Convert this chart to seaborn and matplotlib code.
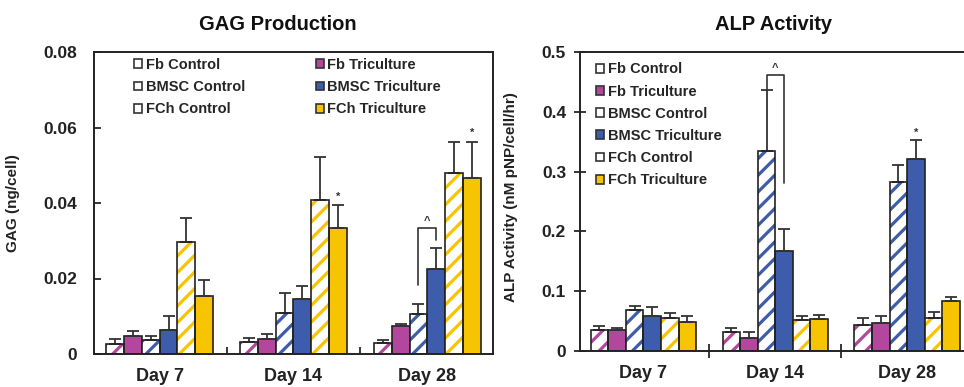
import numpy as np
import pandas as pd
import matplotlib
matplotlib.use("Agg")
import matplotlib.pyplot as plt
import seaborn as sns
from matplotlib.patches import Rectangle, Patch
from matplotlib.container import BarContainer

# ---------------- data ----------------
days = ["Day 7", "Day 14", "Day 28"]
groups = ["Fb Control", "Fb Triculture", "BMSC Control",
          "BMSC Triculture", "FCh Control", "FCh Triculture"]
colors = ["#B2479D", "#B2479D", "#3D5CAB", "#3D5CAB", "#F6C400", "#F6C400"]
is_control = [True, False, True, False, True, False]

# GAG production (ng/cell)
gag_fb_ctrl = [0.0027, 0.0033, 0.0030]
gag_fb_tri = [0.0048, 0.0041, 0.0073]
gag_bmsc_ctrl = [0.0036, 0.0108, 0.0105]
gag_bmsc_tri = [0.0064, 0.0145, 0.0226]
gag_fch_ctrl = [0.0296, 0.0407, 0.0479]
gag_fch_tri = [0.0154, 0.0333, 0.0466]
gag_fb_ctrl_err = [0.0012, 0.0009, 0.0008]
gag_fb_tri_err = [0.0013, 0.0012, 0.0006]
gag_bmsc_ctrl_err = [0.0013, 0.0053, 0.0027]
gag_bmsc_tri_err = [0.0037, 0.0034, 0.0055]
gag_fch_ctrl_err = [0.0063, 0.0115, 0.0083]
gag_fch_tri_err = [0.0041, 0.0062, 0.0096]

# ALP activity (nM pNP/cell/hr)
alp_fb_ctrl = [0.035, 0.032, 0.043]
alp_fb_tri = [0.035, 0.021, 0.046]
alp_bmsc_ctrl = [0.068, 0.334, 0.283]
alp_bmsc_tri = [0.059, 0.168, 0.321]
alp_fch_ctrl = [0.056, 0.052, 0.056]
alp_fch_tri = [0.049, 0.054, 0.083]
alp_fb_ctrl_err = [0.007, 0.006, 0.012]
alp_fb_tri_err = [0.003, 0.010, 0.013]
alp_bmsc_ctrl_err = [0.008, 0.102, 0.028]
alp_bmsc_tri_err = [0.014, 0.036, 0.032]
alp_fch_ctrl_err = [0.007, 0.007, 0.010]
alp_fch_tri_err = [0.010, 0.007, 0.007]

# significance marks: (day index, group index, y)
gag_stars = [(1, 5, 0.0415), (2, 5, 0.0585)]
alp_stars = [(2, 3, 0.364)]
# brackets: (day index, left group, right group, left bottom, top, right bottom, caret y)
gag_brackets = [(2, 2, 3, 0.0183, 0.0334, 0.0302, 0.0352)]
alp_brackets = [(1, 2, 3, 0.436, 0.462, 0.281, 0.474)]

# ---------------- style ----------------
sns.set_theme(style="white")
plt.rcParams["font.family"] = ["Liberation Sans", "DejaVu Sans"]
plt.rcParams["hatch.linewidth"] = 2.3

fig = plt.figure(figsize=(9.64, 3.87), dpi=100)
axL = fig.add_axes([94 / 964, 33 / 387, 399 / 964, 302 / 387])
axR = fig.add_axes([580 / 964, 36 / 387, 384 / 964, 299 / 387])


def make_df(means, errs):
    rows = []
    for g, m, e in zip(groups, means, errs):
        for d, mv, ev in zip(days, m, e):
            rows.append({"day": d, "group": g, "value": mv, "err": ev})
    return pd.DataFrame(rows)


def draw(ax, df):
    pal = {g: ("white" if c else col) for g, c, col in zip(groups, is_control, colors)}
    sns.barplot(data=df, x="day", y="value", hue="group", order=days,
                hue_order=groups, palette=pal, width=0.8, errorbar=None,
                saturation=1, edgecolor="#222222", linewidth=1.2,
                legend=False, ax=ax)
    bar_conts = [c for c in ax.containers if isinstance(c, BarContainer)]
    centers = {}
    for gi, cont in enumerate(bar_conts):
        sub = df[df["group"] == groups[gi]].set_index("day").loc[days]
        xs, ys = [], []
        for di, p in enumerate(cont.patches):
            xc = p.get_x() + p.get_width() / 2
            xs.append(xc)
            ys.append(p.get_height())
            centers[(di, gi)] = xc
            if is_control[gi]:
                p.set_facecolor("white")
                p.set_hatch("//")
                p.set_edgecolor(colors[gi])
                p.set_linewidth(0)
                ax.add_patch(Rectangle((p.get_x(), 0), p.get_width(), p.get_height(),
                                       fill=False, edgecolor="#222222",
                                       linewidth=1.2, zorder=p.get_zorder() + 0.1))
        ax.errorbar(xs, ys, yerr=[np.zeros(len(ys)), sub["err"].values],
                    fmt="none", ecolor="#333333", elinewidth=1.3, capsize=4,
                    capthick=1.3, zorder=1)
    return centers


def annotate(ax, centers, stars, brackets):
    for di, gi, y in stars:
        ax.text(centers[(di, gi)], y, "*", ha="center", va="center",
                fontsize=8, fontweight="bold", color="#333333")
    for di, g1, g2, yb1, yt, yb2, yc in brackets:
        x1, x2 = centers[(di, g1)], centers[(di, g2)]
        ax.plot([x1, x1, x2, x2], [yb1, yt, yt, yb2], color="#333333", lw=1.2)
        ax.text((x1 + x2) / 2, yc, "^", ha="center", va="center",
                fontsize=8, fontweight="bold", color="#333333")


gag_means = [gag_fb_ctrl, gag_fb_tri, gag_bmsc_ctrl, gag_bmsc_tri, gag_fch_ctrl, gag_fch_tri]
gag_errs = [gag_fb_ctrl_err, gag_fb_tri_err, gag_bmsc_ctrl_err, gag_bmsc_tri_err,
            gag_fch_ctrl_err, gag_fch_tri_err]
alp_means = [alp_fb_ctrl, alp_fb_tri, alp_bmsc_ctrl, alp_bmsc_tri, alp_fch_ctrl, alp_fch_tri]
alp_errs = [alp_fb_ctrl_err, alp_fb_tri_err, alp_bmsc_ctrl_err, alp_bmsc_tri_err,
            alp_fch_ctrl_err, alp_fch_tri_err]

cL = draw(axL, make_df(gag_means, gag_errs))
annotate(axL, cL, gag_stars, gag_brackets)
cR = draw(axR, make_df(alp_means, alp_errs))
annotate(axR, cR, alp_stars, alp_brackets)

# ---------------- axes formatting ----------------
for ax in (axL, axR):
    ax.set_xlabel("")
    for s in ax.spines.values():
        s.set_color("#222222")
        s.set_linewidth(1.4)
    ax.set_xticks([0, 1, 2])
    ax.set_xticklabels(days, fontsize=13, fontweight="bold", color="#222222")
    ax.set_xticks([0.5, 1.5], minor=True)
    ax.tick_params(axis="x", which="major", length=0, pad=10)

axL.set_xlim(-0.49, 2.49)
axL.set_ylim(0, 0.08)
axL.set_yticks([0, 0.02, 0.04, 0.06, 0.08])
axL.set_yticklabels(["0", "0.02", "0.04", "0.06", "0.08"], fontsize=12.5,
                    fontweight="bold", color="#222222")
axL.tick_params(axis="y", direction="in", length=5, width=1.3, pad=12, left=True)
axL.tick_params(axis="x", which="minor", direction="in", length=5, width=1.3, bottom=True)
axL.set_ylabel("GAG (ng/cell)", fontsize=11, fontweight="bold", color="#222222")
axL.yaxis.set_label_coords(-0.185, 0.5)
axL.set_title("GAG Production", fontsize=14.5, fontweight="bold",
              color="#111111", x=0.46, pad=16)

axR.set_xlim(-0.48, 2.43)
axR.set_ylim(0, 0.5)
axR.set_yticks([0, 0.1, 0.2, 0.3, 0.4, 0.5])
axR.set_yticklabels(["0", "0.1", "0.2", "0.3", "0.4", "0.5"], fontsize=12.5,
                    fontweight="bold", color="#222222")
axR.tick_params(axis="y", direction="inout", length=8, width=1.3, pad=6, left=True)
axR.tick_params(axis="x", which="minor", direction="inout", length=10, width=1.3, bottom=True)
axR.spines["right"].set_visible(False)
axR.set_ylabel("ALP Activity (nM pNP/cell/hr)", fontsize=11, fontweight="bold",
               color="#222222")
axR.yaxis.set_label_coords(-0.161, 0.515)
axR.set_title("ALP Activity", fontsize=14.5, fontweight="bold", color="#111111",
              x=0.503, pad=16)

# ---------------- legends ----------------
def handles():
    hs = []
    for g, c, col in zip(groups, is_control, colors):
        if c:
            hs.append(Patch(facecolor="white", edgecolor="#333333", linewidth=1.2, label=g))
        else:
            hs.append(Patch(facecolor=col, edgecolor="#333333", linewidth=1.2, label=g))
    return hs

hs = handles()
order = [0, 2, 4, 1, 3, 5]
axL.legend([hs[i] for i in order], [groups[i] for i in order], ncol=2,
           loc="upper left", bbox_to_anchor=(0.1, 0.98), frameon=False,
           prop={"size": 10.5, "weight": "bold"}, handlelength=0.55,
           handleheight=0.55, handletextpad=0.25, labelspacing=0.56,
           columnspacing=4.85, borderpad=0, borderaxespad=0)
axR.legend(hs, groups, ncol=1, loc="upper left", bbox_to_anchor=(0.042, 0.965),
           frameon=False, prop={"size": 10.5, "weight": "bold"},
           handlelength=0.55, handleheight=0.55, handletextpad=0.25,
           labelspacing=0.56, borderpad=0, borderaxespad=0)

fig.savefig("out.png", dpi=100, facecolor="white")
